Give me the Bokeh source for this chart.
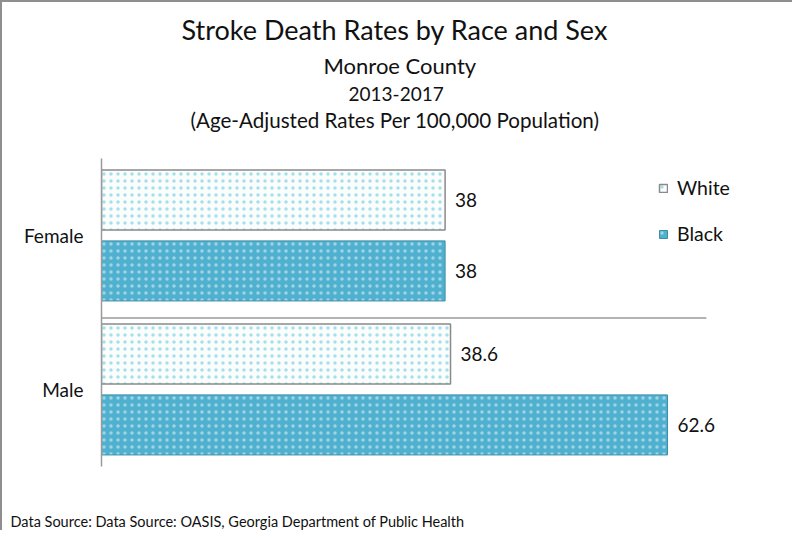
from bokeh.plotting import figure
from bokeh.models import FactorRange, Range1d, Legend, LegendItem, Title
from bokeh.transform import dodge
from bokeh.core.properties import value
from bokeh.embed import file_html
from bokeh.resources import INLINE
from bokeh.models import ColumnDataSource

# ---- data ----
sexes = ["Female", "Male"]
white_rates = [38, 38.6]
black_rates = [38, 62.6]
white_labels = ["38", "38.6"]
black_labels = ["38", "62.6"]

title_lines = [
    "Stroke Death Rates by Race and Sex",
    "Monroe County",
    "2013-2017",
    "(Age-Adjusted Rates Per 100,000 Population)",
]
footer = "Data Source:  Data Source: OASIS, Georgia Department of Public Health"

FONT = "Lato"

src = ColumnDataSource(dict(sex=sexes, white=white_rates, black=black_rates,
                            wl=white_labels, bl=black_labels))

p = figure(width=792, height=530, output_backend="svg", toolbar_location=None,
           y_range=FactorRange(factors=["Male", "Female"]),
           x_range=Range1d(0, 76.2),
           min_border_left=99, min_border_right=4,
           min_border_top=156, min_border_bottom=66,
           styles={"border-left": "2px solid #8f8f8f", "border-top": "2px solid #8f8f8f"})

p.outline_line_color = None
p.xaxis.visible = False
p.xgrid.visible = False
p.ygrid.visible = False
p.yaxis.axis_line_color = "#9a9a9a"
p.yaxis.axis_line_width = 1.5
p.yaxis.major_tick_line_color = None
p.yaxis.minor_tick_line_color = None
p.yaxis.major_tick_out = 0
p.yaxis.major_tick_in = 0
p.yaxis.major_label_text_font = FONT
p.yaxis.major_label_text_font_size = "19px"
p.yaxis.major_label_text_color = "#111111"
p.yaxis.major_label_standoff = 18

OFF = 0.23
H = 0.39

# divider between categories
div_src = ColumnDataSource(dict(sex=["Female"], x0=[0], x1=[66.9]))
p.segment(x0="x0", x1="x1", y0=dodge("sex", -0.535, range=p.y_range),
          y1=dodge("sex", -0.535, range=p.y_range), source=div_src,
          line_color="#9a9a9a", line_width=1.5)

rw = p.hbar(y=dodge("sex", OFF, range=p.y_range), right="white", left=0, height=H,
            source=src, fill_color="#fbfdfd", line_color="#8a8a8a", line_width=1.5,
            hatch_pattern=".", hatch_color="#6ccbe0", hatch_scale=7, hatch_weight=0.5,
            hatch_alpha=0.6)
rb = p.hbar(y=dodge("sex", -OFF, range=p.y_range), right="black", left=0, height=H,
            source=src, fill_color="#4fb1cf", line_color="#3b8ea8", line_width=1,
            hatch_pattern=".", hatch_color="#ffffff", hatch_scale=7, hatch_weight=0.5,
            hatch_alpha=0.45)

p.text(x="white", y=dodge("sex", OFF, range=p.y_range), text="wl", source=src,
       x_offset=10, text_baseline="middle", text_font=value(FONT),
       text_font_size="19px", text_color="#111111")
p.text(x="black", y=dodge("sex", -OFF, range=p.y_range), text="bl", source=src,
       x_offset=10, text_baseline="middle", text_font=value(FONT),
       text_font_size="19px", text_color="#111111")

legend = Legend(items=[LegendItem(label="White", renderers=[rw]),
                       LegendItem(label="Black", renderers=[rb])],
                location=(557, 221), orientation="vertical",
                background_fill_alpha=0, border_line_color=None,
                label_text_font=FONT, label_text_font_size="19.5px",
                label_text_color="#111111", glyph_width=10, glyph_height=10,
                label_standoff=9, spacing=23, label_height=20, padding=0, margin=0)
p.add_layout(legend, "center")

# spacer between plot and title block
p.add_layout(Title(text="\u00a0", standoff=9, text_font_size="12px"), "above")
# titles: added from the line nearest the plot outward
tsz = ["27px", "22px", "19px", "20.6px"]
tstand = [2, 6, 6, 4]
toff = [80, 222, 247, 89]
for t, s, st, o in reversed(list(zip(title_lines, tsz, tstand, toff))):
    p.add_layout(Title(text=t, align="left", offset=o, standoff=st,
                       text_font=FONT, text_font_size=s, text_font_style="normal",
                       text_color="#111111"), "above")

# spacer between plot and footer
p.add_layout(Title(text="\u00a0", standoff=15, text_font_size="24px"), "below")
p.add_layout(Title(text=footer, align="left", offset=-91, standoff=0,
                   text_font=FONT, text_font_size="14.5px", text_font_style="normal",
                   text_color="#111111"), "below")

open("out.html", "w").write(file_html(p, INLINE))
